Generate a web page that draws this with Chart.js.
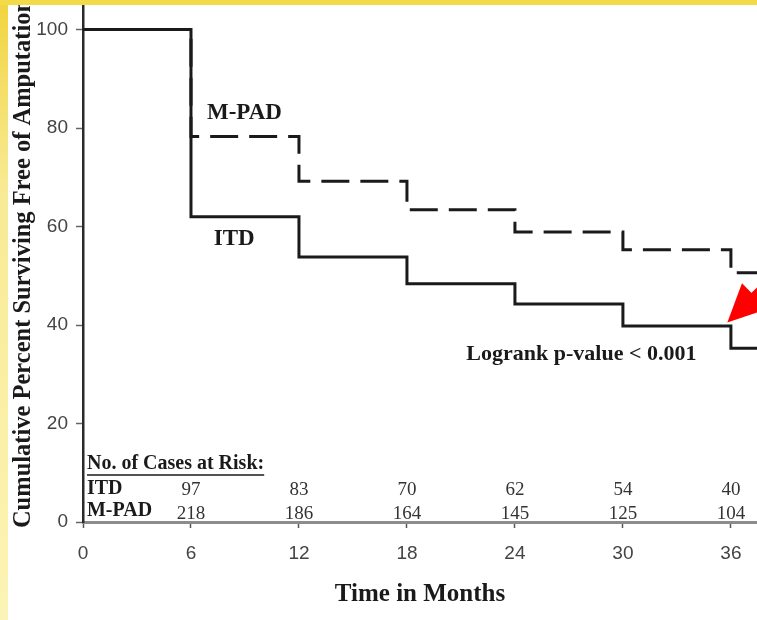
<!DOCTYPE html>
<html>
<head>
<meta charset="utf-8">
<title>Amputation-free survival: ITD vs M-PAD</title>
<script src="https://cdn.jsdelivr.net/npm/chart.js@4/dist/chart.umd.min.js"></script>
<style>
  html, body { margin: 0; padding: 0; background: #ffffff; }
  #wrap { position: relative; width: 757px; height: 620px; }
</style>
</head>
<body>
<div id="wrap"><canvas id="km" width="757" height="620"></canvas></div>
<script>
// Kaplan-Meier step values (percent surviving free of amputation)
const months = [0, 6, 12, 18, 24, 30, 36];
const itdSurvival = [100, 62, 53.8, 48.4, 44.3, 39.8, 35.3];
const mpadSurvival = [100, 78.3, 69.2, 63.4, 58.9, 55.3, 50.6];

// Number of cases at risk, by month
const riskMonths = [6, 12, 18, 24, 30, 36];
const itdAtRisk = [97, 83, 70, 62, 54, 40];
const mpadAtRisk = [218, 186, 164, 145, 125, 104];

// Axis ranges and tick steps
const xMin = 0, xMax = 37.45, xStep = 6;
const yMin = 0, yMax = 105, yStep = 20;

// Where the arrow points: the ITD step at 36 months
const arrowTip = { x: 35.8, y: 40.5 };
const arrowTail = { x: 39.2, y: 52.6 };

const serif = '"Liberation Serif", "Times New Roman", serif';
const sans = '"Liberation Sans", Arial, sans-serif';

function stepPoints(xs, ys) {
  const pts = xs.map((m, i) => ({ x: m, y: ys[i] }));
  // carry the last value to the end of the axis
  pts.push({ x: xMax, y: ys[ys.length - 1] });
  return pts;
}

const decorations = {
  id: 'decorations',
  beforeDraw(chart) {
    const { ctx, width, height } = chart;
    ctx.save();
    ctx.fillStyle = '#ffffff';
    ctx.fillRect(0, 0, width, height);
    ctx.restore();
  },
  afterDatasetsDraw(chart) {
    const { ctx } = chart;
    const x = chart.scales.x, y = chart.scales.y;
    const px = v => x.getPixelForValue(v);
    const py = v => y.getPixelForValue(v);
    ctx.save();
    ctx.fillStyle = '#1a1a1a';
    ctx.textBaseline = 'middle';

    // curve labels
    ctx.font = 'bold 23px ' + serif;
    ctx.textAlign = 'center';
    ctx.fillText('M-PAD', px(8.97), py(83.1));
    ctx.fillText('ITD', px(8.4), py(57.5));

    ctx.textAlign = 'left';
    ctx.font = 'bold 22px ' + serif;
    ctx.fillText('Logrank p-value < 0.001', px(21.3), py(34.1));

    // risk table
    const headX = px(0.22);
    ctx.font = 'bold 20px ' + serif;
    const head = 'No. of Cases at Risk:';
    const hy = py(11.8);
    ctx.fillText(head, headX, hy);
    const hw = ctx.measureText(head).width;
    ctx.strokeStyle = '#1a1a1a';
    ctx.lineWidth = 1.5;
    ctx.beginPath();
    ctx.moveTo(headX, hy + 11);
    ctx.lineTo(headX + hw, hy + 11);
    ctx.stroke();

    ctx.fillText('ITD', headX, py(6.7));
    ctx.fillText('M-PAD', headX, py(2.2));

    ctx.font = '19px ' + serif;
    ctx.fillStyle = '#333333';
    ctx.textAlign = 'center';
    riskMonths.forEach((m, i) => {
      ctx.fillText(String(itdAtRisk[i]), px(m), py(6.5));
      ctx.fillText(String(mpadAtRisk[i]), px(m), py(1.6));
    });

    // red arrow
    const tx = px(arrowTip.x), ty = py(arrowTip.y);
    const sx = px(arrowTail.x), sy = py(arrowTail.y);
    const ang = Math.atan2(ty - sy, tx - sx);
    const headLen = 38, headHalf = 18;
    const bx = tx - headLen * Math.cos(ang), by = ty - headLen * Math.sin(ang);
    ctx.strokeStyle = '#ff0000';
    ctx.fillStyle = '#ff0000';
    ctx.lineWidth = 9;
    ctx.beginPath();
    ctx.moveTo(sx, sy);
    ctx.lineTo(bx + 6 * Math.cos(ang), by + 6 * Math.sin(ang));
    ctx.stroke();
    ctx.beginPath();
    ctx.moveTo(tx, ty);
    ctx.lineTo(bx + headHalf * Math.sin(ang), by - headHalf * Math.cos(ang));
    ctx.lineTo(bx - headHalf * Math.sin(ang), by + headHalf * Math.cos(ang));
    ctx.closePath();
    ctx.fill();
    ctx.restore();
  },
  afterDraw(chart) {
    const { ctx, width, height } = chart;
    ctx.save();
    // page frame: top band and left strip
    const g = ctx.createLinearGradient(0, 0, 0, height);
    g.addColorStop(0, '#f1d43e');
    g.addColorStop(0.3, '#f8ea94');
    g.addColorStop(1, '#fcf4b6');
    ctx.fillStyle = g;
    ctx.fillRect(0, 0, 8, height);
    ctx.fillStyle = '#f3da48';
    ctx.fillRect(0, 0, width, 5);
    ctx.restore();
  }
};

new Chart(document.getElementById('km'), {
  type: 'line',
  data: {
    datasets: [
      {
        label: 'ITD',
        data: stepPoints(months, itdSurvival),
        stepped: 'before',
        borderColor: '#1a1a1a',
        borderWidth: 3,
        pointRadius: 0,
        fill: false
      },
      {
        label: 'M-PAD',
        data: stepPoints(months, mpadSurvival),
        stepped: 'before',
        borderColor: '#1a1a1a',
        borderWidth: 3,
        borderDash: [28, 11],
        pointRadius: 0,
        fill: false
      }
    ]
  },
  options: {
    responsive: false,
    animation: false,
    layout: { padding: { top: 5, left: 0, right: 0, bottom: 0 } },
    plugins: { legend: { display: false }, tooltip: { enabled: false } },
    scales: {
      x: {
        type: 'linear',
        min: xMin,
        max: xMax,
        afterFit(scale) {
          scale.height = 98;
          scale.paddingLeft = 0;
          scale.paddingRight = 0;
        },
        ticks: {
          stepSize: xStep,
          includeBounds: false,
          color: '#444444',
          font: { family: sans, size: 19 },
          padding: 14,
          maxRotation: 0
        },
        grid: {
          drawOnChartArea: false,
          drawTicks: true,
          tickLength: 6,
          tickWidth: 1.5,
          tickColor: '#555555'
        },
        border: { display: true, color: '#8c8c8c', width: 3 },
        title: {
          display: true,
          text: 'Time in Months',
          color: '#1a1a1a',
          font: { family: serif, size: 25, weight: 'bold' },
          padding: { top: 0, bottom: 10 }
        }
      },
      y: {
        min: yMin,
        max: yMax,
        afterFit(scale) {
          scale.width = 83;
          scale.paddingTop = 0;
          scale.paddingBottom = 0;
        },
        ticks: {
          stepSize: yStep,
          includeBounds: false,
          color: '#444444',
          font: { family: sans, size: 19 },
          padding: 8
        },
        grid: {
          drawOnChartArea: false,
          drawTicks: true,
          tickLength: 7,
          tickWidth: 1.5,
          tickColor: '#666666'
        },
        border: { display: true, color: '#2a2a2a', width: 2.5 },
        title: {
          display: true,
          text: 'Cumulative Percent Surviving Free of Amputation',
          color: '#1a1a1a',
          font: { family: serif, size: 24.5, weight: 'bold' },
          padding: { top: 9, bottom: 0 }
        }
      }
    }
  },
  plugins: [decorations]
});
</script>
</body>
</html>
